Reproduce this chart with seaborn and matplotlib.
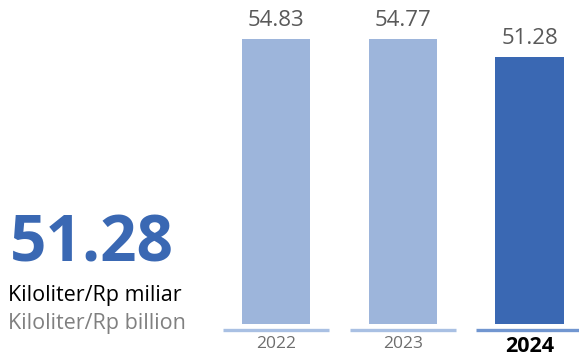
import matplotlib
matplotlib.use("Agg")
import matplotlib.pyplot as plt
import matplotlib.transforms as mtransforms
import seaborn as sns
import pandas as pd

years = ["2022", "2023", "2024"]
intensity = [54.83, 54.77, 51.28]
headline_value = "51.28"
unit_id = "Kiloliter/Rp miliar"
unit_en = "Kiloliter/Rp billion"

sns.set_theme(style="white")
plt.rcParams["font.family"] = ["Open Sans", "DejaVu Sans"]

light_blue = "#9DB5DB"
dark_blue = "#3A68B3"
line_light = "#A9C0E3"
line_dark = "#7196D0"

df = pd.DataFrame({"year": years, "value": intensity})

fig = plt.figure(figsize=(5.79, 3.59), dpi=100)
ax = fig.add_axes([223 / 579, 35 / 359, (579 - 223) / 579, 324 / 359])

sns.barplot(data=df, x="year", y="value", hue="year",
            palette=[light_blue, light_blue, dark_blue],
            width=0.54, legend=False, ax=ax, saturation=1, linewidth=0)

ax.set_xlim(-0.42, 2.39)
ax.set_ylim(0, 62.3)
ax.set_xlabel("")
ax.set_ylabel("")
ax.set_yticks([])
sns.despine(ax=ax, left=True, bottom=True)

for cont in ax.containers:
    ax.bar_label(cont, fmt="%.2f", padding=6, fontsize=16, color="#595959")

# segmented baseline under each category
trans = mtransforms.blended_transform_factory(ax.transData, ax.transAxes)
for i, yr in enumerate(years):
    last = i == len(years) - 1
    ax.plot([i - 0.42, i + 0.44 if last else i + 0.42], [-0.017, -0.017],
            transform=trans, color=line_dark if last else line_light,
            lw=2.4, clip_on=False, solid_capstyle="butt")

ax.tick_params(axis="x", length=0, pad=9, labelsize=12.5)
for lbl in ax.get_xticklabels():
    if lbl.get_text() == years[-1]:
        lbl.set_color("black")
        lbl.set_fontweight("bold")
        lbl.set_fontsize(15.5)
    else:
        lbl.set_color("#6E6E6E")

fig.text(10 / 579, 1 - 262 / 359, headline_value, fontsize=46, fontweight="bold",
         color=dark_blue, ha="left", va="baseline")
fig.text(8 / 579, 1 - 301 / 359, unit_id, fontsize=15.5, color="black",
         ha="left", va="baseline")
fig.text(8 / 579, 1 - 329 / 359, unit_en, fontsize=15.5, color="#808080",
         ha="left", va="baseline")

fig.savefig("out.png", dpi=100)
